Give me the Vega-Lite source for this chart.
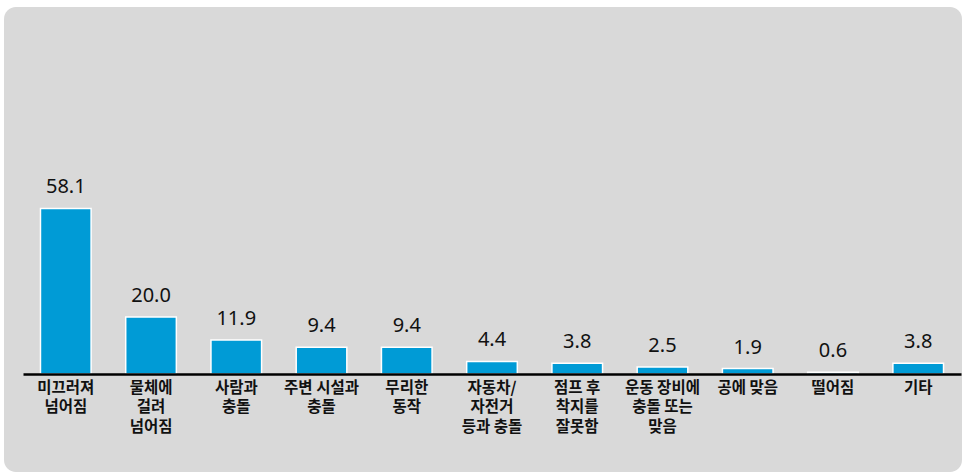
{
  "$schema": "https://vega.github.io/schema/vega-lite/v6.json",
  "width": 958,
  "height": 465,
  "autosize": {"type": "none"},
  "padding": {"left": 4, "top": 7, "right": 0, "bottom": 0},
  "background": "#ffffff",
  "config": {"view": {"fill": "#d9d9d9", "stroke": null, "cornerRadius": 12}},
  "data": {
    "values": [
      {"category": "미끄러져\n넘어짐", "value": 58.1},
      {"category": "물체에\n걸려\n넘어짐", "value": 20.0},
      {"category": "사람과\n충돌", "value": 11.9},
      {"category": "주변 시설과\n충돌", "value": 9.4},
      {"category": "무리한\n동작", "value": 9.4},
      {"category": "자동차/\n자전거\n등과 충돌", "value": 4.4},
      {"category": "점프 후\n착지를\n잘못함", "value": 3.8},
      {"category": "운동 장비에\n충돌 또는\n맞음", "value": 2.5},
      {"category": "공에 맞음", "value": 1.9},
      {"category": "떨어짐", "value": 0.6},
      {"category": "기타", "value": 3.8}
    ]
  },
  "encoding": {
    "x": {
      "field": "category",
      "type": "nominal",
      "sort": null,
      "scale": {"range": [19, 957], "paddingInner": 0.406, "paddingOuter": 0.205},
      "axis": {
        "title": null,
        "orient": "bottom",
        "offset": -98,
        "zindex": 1,
        "domainColor": "#000000",
        "domainWidth": 2.5,
        "ticks": false,
        "grid": false,
        "labelAngle": 0,
        "labelExpr": "split(datum.label, '\\n')",
        "labelFont": "Noto Sans CJK KR",
        "labelFontSize": 15.5,
        "labelFontWeight": "bold",
        "labelColor": "#111111",
        "labelPadding": 6,
        "labelLineHeight": 19.5,
        "labelBaseline": "top",
        "labelOverlap": false,
        "labelLimit": 0
      }
    },
    "y": {
      "field": "value",
      "type": "quantitative",
      "scale": {"domain": [0, 128.8], "range": [367, 0], "nice": false, "zero": true},
      "axis": null
    }
  },
  "layer": [
    {"mark": {"type": "bar", "color": "#009bd6", "stroke": "#ffffff", "strokeWidth": 1.5}},
    {
      "mark": {"type": "text", "baseline": "alphabetic", "dy": -15, "fontSize": 20, "font": "Noto Sans", "color": "#111111"},
      "encoding": {"text": {"field": "value", "type": "quantitative", "format": ".1f"}}
    }
  ]
}
